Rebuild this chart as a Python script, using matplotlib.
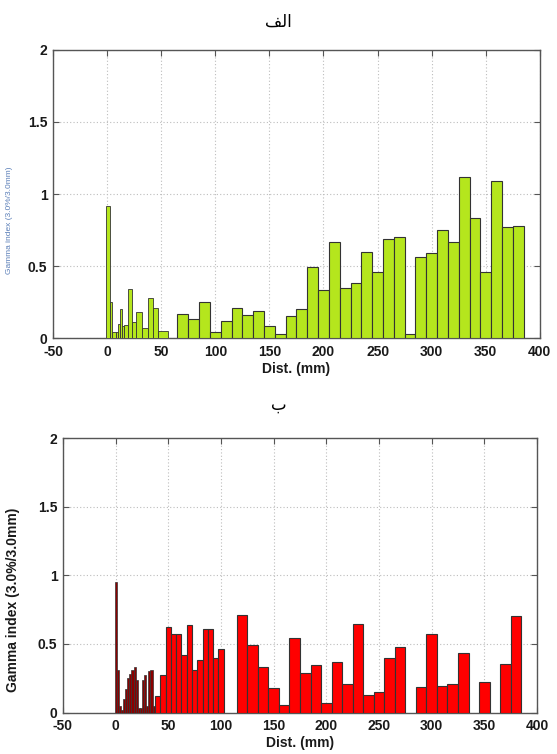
import matplotlib
matplotlib.use('Agg')
from matplotlib import pyplot as plt
import numpy as np

# top panel (green): fine bins near 0 given as edges, then 10 mm bins
top_fine_edges = [-0.7, 2.4, 4.2, 8.0, 9.8, 11.6, 14.0, 15.9, 19.6, 22.7, 27.0, 32.5, 37.5, 42.4, 47.3, 56.0]
top_fine_vals = [0.92, 0.25, 0.04, 0.04, 0.10, 0.20, 0.08, 0.09, 0.34, 0.11, 0.18, 0.07, 0.28, 0.21, 0.05]
top_dist = [70, 80, 90, 100, 110, 120, 130, 140, 150, 160, 170, 180, 190, 200, 210, 220,
            230, 240, 250, 260, 270, 280, 290, 300, 310, 320, 330, 340, 350, 360, 370, 380]
top_vals = [0.17, 0.13, 0.25, 0.04, 0.12, 0.21, 0.16, 0.19, 0.08, 0.03, 0.15, 0.20, 0.49, 0.33, 0.67, 0.35,
            0.38, 0.60, 0.46, 0.69, 0.70, 0.03, 0.56, 0.59, 0.75, 0.67, 1.12, 0.83, 0.46, 1.09, 0.77, 0.78]

# bottom panel (red): 2 mm bins (dark red), 5 mm bins, then 10 mm bins
bot_fine_dist = [0, 2, 4, 6, 8, 10, 12, 14, 16, 18, 20, 22, 24, 26, 28, 30, 32, 34, 36]
bot_fine_vals = [0.95, 0.31, 0.05, 0.02, 0.10, 0.17, 0.25, 0.28, 0.31, 0.33, 0.24, 0.03, 0.03, 0.24,
                 0.27, 0.05, 0.30, 0.31, 0.05]
bot_mid_dist = [40, 45, 50, 55, 60, 65, 70, 75, 80, 85, 90, 95, 100]
bot_mid_vals = [0.12, 0.27, 0.62, 0.57, 0.57, 0.42, 0.64, 0.31, 0.38, 0.61, 0.61, 0.40, 0.46]
bot_dist = [120, 130, 140, 150, 160, 170, 180, 190, 200, 210, 220, 230, 240, 250, 260, 270,
            290, 300, 310, 320, 330, 350, 370, 380]
bot_vals = [0.71, 0.49, 0.33, 0.18, 0.055, 0.54, 0.29, 0.345, 0.07, 0.37, 0.205, 0.645, 0.128, 0.147,
            0.40, 0.475, 0.186, 0.57, 0.196, 0.21, 0.435, 0.22, 0.355, 0.70]

xticks = [-50, 0, 50, 100, 150, 200, 250, 300, 350, 400]
yticks = [0, 0.5, 1, 1.5, 2]
ytick_labels = ['0', '0.5', '1', '1.5', '2']

plt.rcParams['font.family'] = ['Liberation Sans', 'DejaVu Sans']

edge = '#333333'
green = '#b5e61d'
red = '#ff0000'
darkred = '#8b0000'


def setup_axes(ax):
    ax.set_xlim(-50, 400)
    ax.set_ylim(0, 2)
    ax.set_xticks(xticks)
    ax.set_xticklabels([str(t) for t in xticks])
    ax.set_yticks(yticks)
    ax.set_yticklabels(ytick_labels)
    ax.grid(True, linestyle=(0, (1, 2)), color='#bdbdbd', linewidth=0.8)
    ax.set_axisbelow(True)
    ax.tick_params(direction='in', top=True, right=True, length=4, width=0.8, color='#555555',
                   labelsize=10, labelcolor='#1a1a1a')
    ax.tick_params(axis='x', pad=5)
    ax.tick_params(axis='y', pad=4)
    for lbl in ax.get_xticklabels() + ax.get_yticklabels():
        lbl.set_fontweight('bold')
    for s in ax.spines.values():
        s.set_color('#555555')
        s.set_linewidth(1.0)
    ax.set_xlabel('Dist. (mm)', fontsize=10, fontweight='bold', color='#1a1a1a', labelpad=2)


def bars(ax, x, h, color, lw=0.8):
    x = np.asarray(x, dtype=float)
    width = np.min(np.diff(x))
    ax.bar(x, h, width=width, color=color, edgecolor=edge, linewidth=lw, zorder=3)


fig = plt.figure(figsize=(5.57, 7.54), dpi=100)

# top: "الف" (presentation forms, visual order)
ax1 = fig.add_axes([0.0952, 0.5517, 0.874, 0.382])
e = np.asarray(top_fine_edges)
ax1.bar(e[:-1], top_fine_vals, width=np.diff(e), align='edge', color=green,
        edgecolor=edge, linewidth=0.6, zorder=3)
bars(ax1, top_dist, top_vals, green)
setup_axes(ax1)
ax1.set_ylabel('Gamma index (3.0%/3.0mm)', fontsize=6, color='#5b7fb8')
ax1.yaxis.set_label_coords(-0.082, 0.41)

# bottom: "ب"
ax2 = fig.add_axes([0.1131, 0.055, 0.851, 0.364])
bars(ax2, bot_fine_dist, bot_fine_vals, darkred, lw=0.5)
bars(ax2, bot_mid_dist, bot_mid_vals, red)
bars(ax2, bot_dist, bot_vals, red)
setup_axes(ax2)
ax2.set_ylabel('Gamma index (3.0%/3.0mm)', fontsize=10, fontweight='bold', color='#1a1a1a')
ax2.yaxis.set_label_coords(-0.091, 0.41)

fig.text(0.5, 1 - 22 / 754, '\ufed2\ufedf\u0627', ha='center', va='center', fontsize=12,
         family=['DejaVu Sans'])
fig.text(0.5, 1 - 405 / 754, '\u0628', ha='center', va='center', fontsize=12,
         family=['DejaVu Sans'])

fig.savefig('out.png', dpi=100)
